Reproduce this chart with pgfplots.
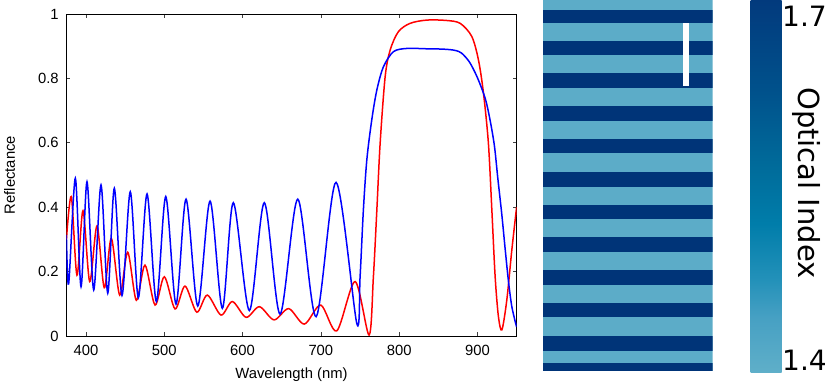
\documentclass[border=0pt]{standalone}
\usepackage{fontspec}
\setmainfont{Liberation Sans}
\newfontfamily\dejavu{DejaVu Sans}
\usepackage{pgfplots}
\pgfplotsset{compat=1.18}
\usepackage{pgfplotstable}
\definecolor{stripedark}{RGB}{0,52,120}
\definecolor{stripelight}{RGB}{92,172,200}
\definecolor{cb0}{RGB}{95,175,201}
\definecolor{cb1}{RGB}{70,160,195}
\definecolor{cb2}{RGB}{35,145,185}
\definecolor{cb3}{RGB}{0,125,170}
\definecolor{cb4}{RGB}{0,108,155}
\definecolor{cb5}{RGB}{0,82,140}
\definecolor{cb6}{RGB}{2,58,125}
\pgfdeclareverticalshading{cbshade}{100bp}{color(0bp)=(cb0); color(25bp)=(cb0);
  color(32.5bp)=(cb1); color(37.5bp)=(cb2); color(45bp)=(cb3); color(52.5bp)=(cb4);
  color(62.5bp)=(cb5); color(75bp)=(cb6); color(100bp)=(cb6)}

% reflectance spectra (wavelength nm, R)
\pgfplotstableread{
lam R
375 0.314
377.9 0.162
386.4 0.490
393.7 0.153
401.3 0.479
409.9 0.143
419.2 0.469
427.8 0.133
436.2 0.459
446.0 0.126
456.6 0.448
466.9 0.119
478.0 0.441
489.9 0.107
501.9 0.433
515.0 0.099
527.8 0.425
542.8 0.093
558.5 0.419
574.2 0.086
588.2 0.414
608.7 0.079
627.8 0.414
647.9 0.068
670.5 0.425
693.9 0.060
719.4 0.477
745.9 0.039
750.1 0.184
754.3 0.391
758.7 0.547
765.0 0.671
771.5 0.764
779.9 0.836
792.7 0.883
809.8 0.893
835 0.892
855 0.891
866 0.889
873 0.886
880 0.878
890 0.850
900 0.802
910 0.737
916 0.672
921.7 0.590
926 0.490
931 0.380
935.4 0.270
939.6 0.170
944 0.090
950 0.028
}\blueR

\pgfplotstableread{
lam R
375 0.300
381.3 0.433
388.5 0.189
396.2 0.389
404.8 0.169
414.1 0.342
423.4 0.150
432.4 0.303
443.1 0.127
453.3 0.260
464.3 0.111
475.4 0.220
488.2 0.096
500.1 0.184
513.8 0.084
526.5 0.155
541.5 0.074
555.0 0.127
572.5 0.065
587.0 0.107
604.5 0.058
621.5 0.091
640.2 0.050
659.0 0.085
678.9 0.037
699.9 0.096
720.3 0.016
743.7 0.169
761.6 0.003
767.1 0.184
771.5 0.391
775.7 0.598
782.1 0.805
788.5 0.888
799.0 0.945
814.0 0.971
835.0 0.981
860.0 0.980
877.9 0.971
892.8 0.930
901.3 0.857
907.7 0.754
914.0 0.598
918.4 0.391
922.6 0.184
926.8 0.060
931.2 0.019
937.5 0.112
943.9 0.267
950 0.400
}\redR

\begin{document}
\begin{tikzpicture}
\useasboundingbox (0,0) rectangle (831bp,383bp);

% spectra
\begin{axis}[at={(66.4bp,47bp)},anchor=south west,scale only axis,
  width=450.2bp,height=322bp,
  xmin=375,xmax=950,ymin=0,ymax=1,
  xtick={400,500,600,700,800,900},ytick={0,0.2,0.4,0.6,0.8,1},
  tick align=inside,major tick length=4bp,
  every tick/.style={black!75,line width=0.6bp},
  axis line style={line width=0.8bp},
  /pgf/number format/assume math mode=true,
  tick label style={font=\fontsize{14.8bp}{17bp}\selectfont},
  xticklabel style={yshift=-5.8bp},
  yticklabel style={xshift=-4.2bp},
  label style={font=\fontsize{14.8bp}{17bp}\selectfont},
  xlabel={Wavelength (nm)},
  xlabel style={at={(axis description cs:0.5,-0.1314)},anchor=base},
  ylabel={Reflectance},
  ylabel style={at={(axis description cs:-0.1142,0.5)},anchor=base},
  ]
\addplot[red,line width=1.5bp,smooth,tension=0.5] table[x=lam,y=R]{\redR};
\addplot[blue,line width=1.5bp,smooth,tension=0.5] table[x=lam,y=R]{\blueR};
\end{axis}

% layer stack
\begin{axis}[at={(542.7bp,12bp)},anchor=south west,scale only axis,
  width=170bp,height=371bp,axis lines=none,
  xmin=0,xmax=1,ymin=0,ymax=371,y dir=reverse]
\addplot[draw=none,fill=stripelight] coordinates {(0,0)(1,0)(1,371)(0,371)};
\addplot[draw=none,fill=stripedark] coordinates {(0,10)(1,10)(1,22.7)(0,22.7)};
\addplot[draw=none,fill=stripedark] coordinates {(0,40.7)(1,40.7)(1,55.3)(0,55.3)};
\addplot[draw=none,fill=stripedark] coordinates {(0,73.3)(1,73.3)(1,88)(0,88)};
\addplot[draw=none,fill=stripedark] coordinates {(0,106)(1,106)(1,120.7)(0,120.7)};
\addplot[draw=none,fill=stripedark] coordinates {(0,139)(1,139)(1,153.3)(0,153.3)};
\addplot[draw=none,fill=stripedark] coordinates {(0,172)(1,172)(1,186.7)(0,186.7)};
\addplot[draw=none,fill=stripedark] coordinates {(0,204.7)(1,204.7)(1,219.3)(0,219.3)};
\addplot[draw=none,fill=stripedark] coordinates {(0,237.3)(1,237.3)(1,252)(0,252)};
\addplot[draw=none,fill=stripedark] coordinates {(0,270)(1,270)(1,284.7)(0,284.7)};
\addplot[draw=none,fill=stripedark] coordinates {(0,303.3)(1,303.3)(1,317.3)(0,317.3)};
\addplot[draw=none,fill=stripedark] coordinates {(0,336)(1,336)(1,350.7)(0,350.7)};
\addplot[draw=none,fill=stripedark] coordinates {(0,363.3)(1,363.3)(1,371)(0,371)};
% scale bar
\addplot[draw=none,fill=white] coordinates {(0.8235,23.3)(0.8576,23.3)(0.8576,85.5)(0.8235,85.5)};
\end{axis}

% colour bar
\begin{axis}[at={(750.7bp,10.3bp)},anchor=south west,scale only axis,
  width=31bp,height=372.7bp,axis lines=none,clip=false,
  xmin=0,xmax=1,ymin=1.4,ymax=1.7]
\addplot[draw=none,shading=cbshade]
  coordinates {(0,1.4)(1,1.4)(1,1.7)(0,1.7)};
\node[anchor=base west,inner sep=0pt,font=\dejavu\fontsize{28bp}{30bp}\selectfont]
  at (axis description cs:1.01,0.9302) {1.7};
\node[anchor=base west,inner sep=0pt,font=\dejavu\fontsize{28bp}{30bp}\selectfont]
  at (axis description cs:1.01,0.0072) {1.4};
\node[rotate=-90,inner sep=0pt,font=\dejavu\fontsize{29bp}{31bp}\selectfont]
  at (axis description cs:1.806,0.509) {Optical Index};
\end{axis}
\end{tikzpicture}
\end{document}
